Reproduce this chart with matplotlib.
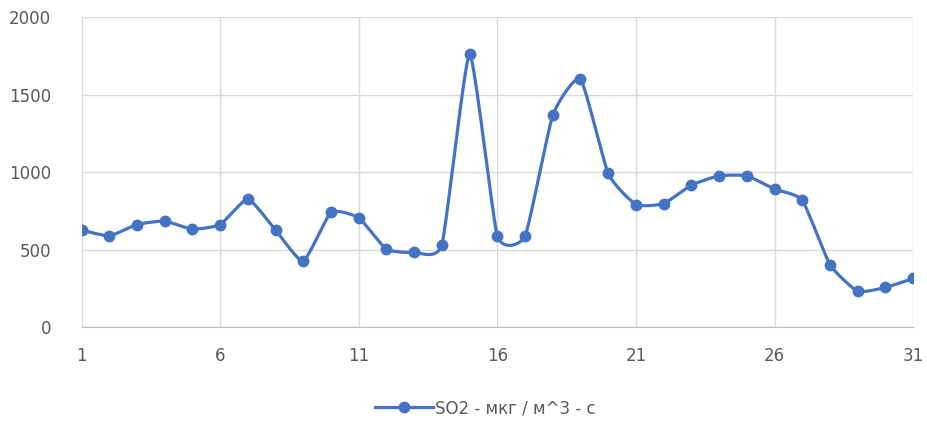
import numpy as np
from matplotlib import pyplot as plt

# daily SO2 readings
days = list(range(1, 32))
so2 = [626, 589, 662, 684, 632, 662, 826, 626, 426, 740,
       705, 503, 482, 533, 1759, 589, 589, 1367, 1600, 991,
       791, 797, 916, 976, 976, 890, 819, 404, 232, 256, 314]
xticks = [1, 6, 11, 16, 21, 26, 31]
yticks = [0, 500, 1000, 1500, 2000]
label = "SO2 - мкг / м^3 - с"


def smooth(x, y, n=20, tension=0.5):
    # hermite curve through the points, looser than excel's smoothed line
    x = np.asarray(x, float)
    y = np.asarray(y, float)
    px = np.concatenate([[x[0]], x, [x[-1]]])
    py = np.concatenate([[y[0]], y, [y[-1]]])
    xs, ys = [], []
    t = np.linspace(0, 1, n, endpoint=False)
    h00 = 2 * t**3 - 3 * t**2 + 1
    h10 = t**3 - 2 * t**2 + t
    h01 = -2 * t**3 + 3 * t**2
    h11 = t**3 - t**2
    for i in range(1, len(px) - 2):
        for arr, out in ((px, xs), (py, ys)):
            p0, p1, p2, p3 = arr[i - 1], arr[i], arr[i + 1], arr[i + 2]
            m1 = tension * (p2 - p0) / 2
            m2 = tension * (p3 - p1) / 2
            out.extend(h00 * p1 + h10 * m1 + h01 * p2 + h11 * m2)
    xs.append(x[-1])
    ys.append(y[-1])
    return xs, ys


blue = "#4472C4"
txt = "#595959"

fig = plt.figure(figsize=(9.27, 4.26), dpi=100)
ax = fig.add_axes([0.088, 0.232, 0.897, 0.728])

sx, sy = smooth(days, so2)
ax.plot(sx, sy, color=blue, lw=2.3, zorder=3)
ax.plot(days, so2, "o", color=blue, ms=7.5, zorder=4)
# legend proxy
ax.plot([], [], "-o", color=blue, lw=2.3, ms=7.5, label=label)

ax.set_xlim(1, 31)
ax.set_ylim(0, 2000)
ax.set_xticks(xticks)
ax.set_yticks(yticks)
ax.grid(True, color="#d9d9d9", lw=1)
ax.set_axisbelow(True)
for s in ["top", "right", "left"]:
    ax.spines[s].set_visible(False)
ax.spines["bottom"].set_color("#bfbfbf")
ax.tick_params(length=0, labelsize=12, labelcolor=txt)
ax.tick_params(axis="x", pad=14)
ax.tick_params(axis="y", pad=22)

fig.legend(loc="center", bbox_to_anchor=(0.523, 0.042), frameon=False,
           fontsize=12, labelcolor=txt, handlelength=3.5, handletextpad=0.1)

fig.savefig("out.png", dpi=100)
